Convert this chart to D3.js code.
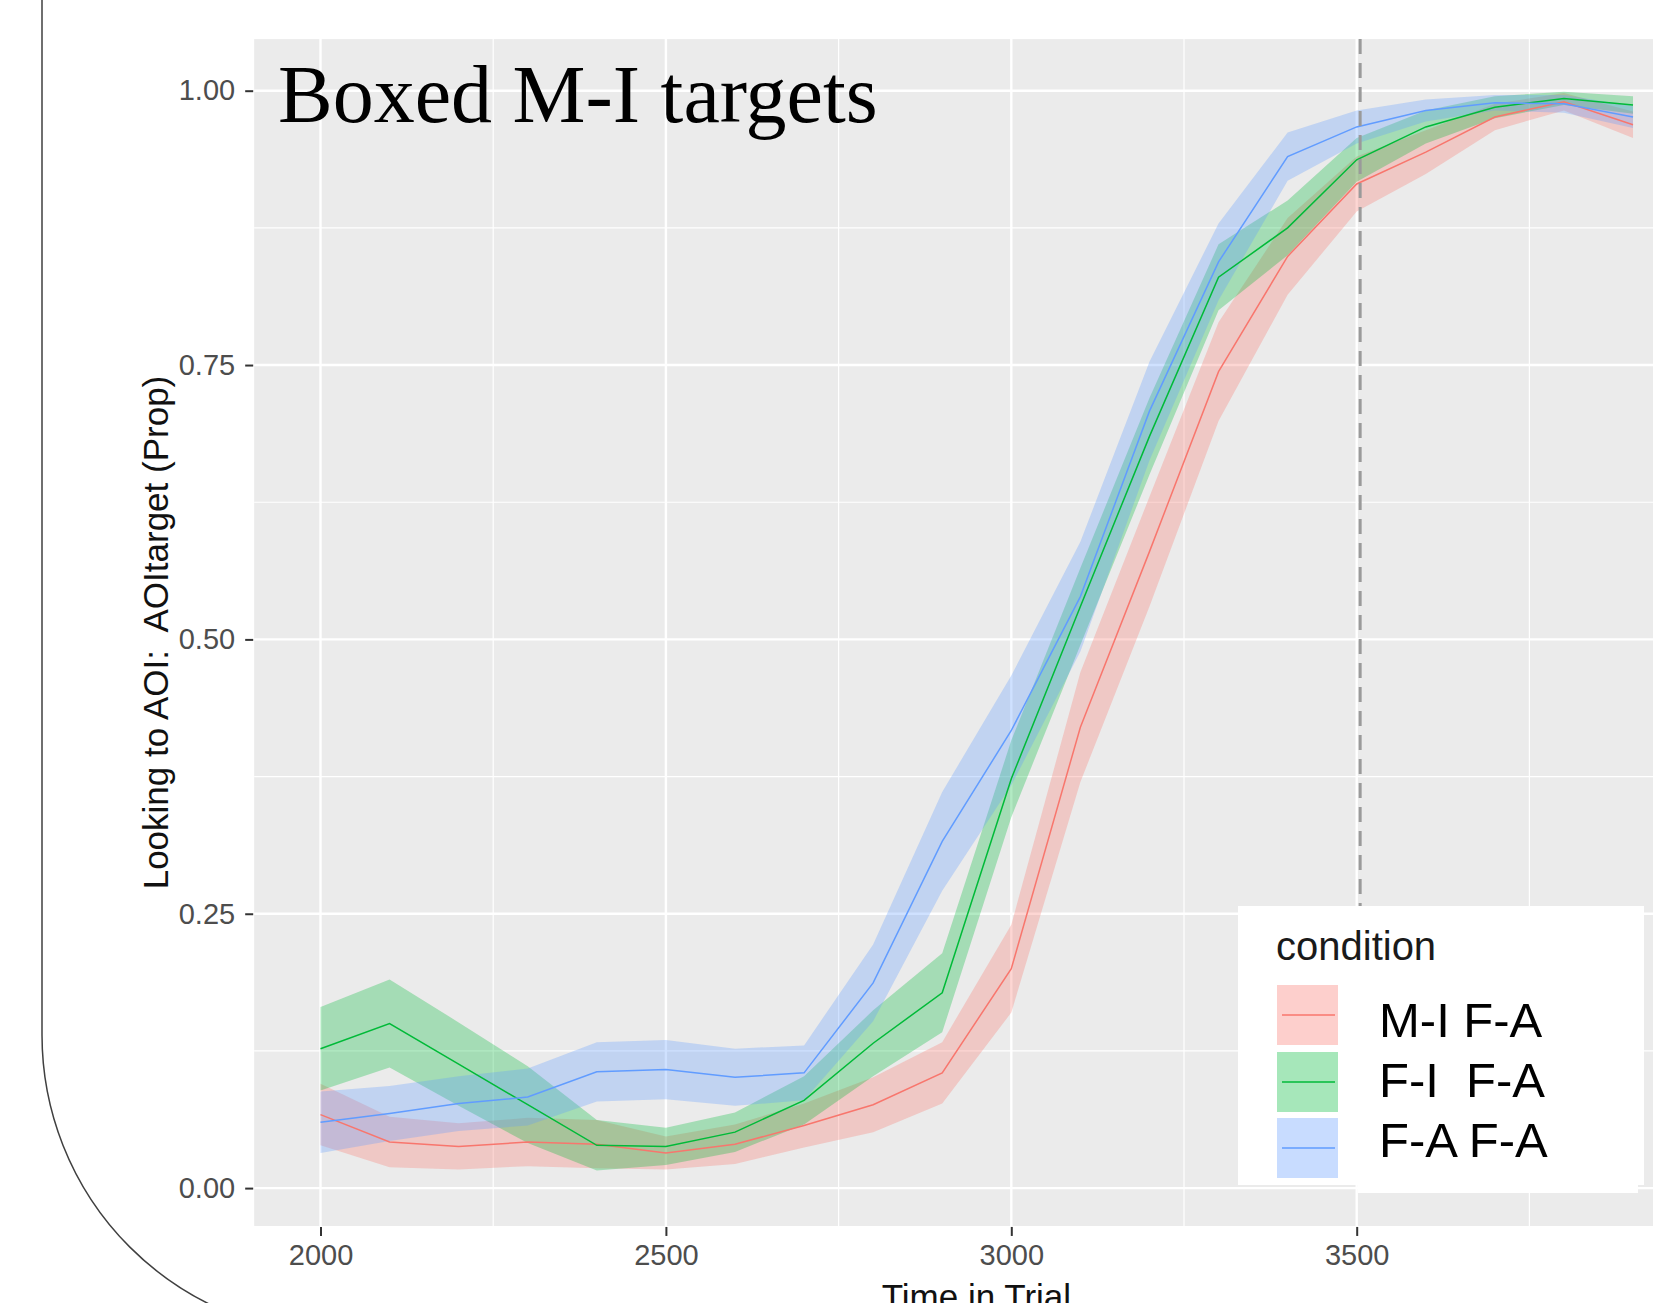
<!DOCTYPE html>
<html>
<head>
<meta charset="utf-8">
<script src="https://d3js.org/d3.v7.min.js"></script>
<style>
  body { margin: 0; background: #fff; }
  svg { display: block; }
</style>
</head>
<body>
<div id="svg-container"></div>
<script>
// Time bins (ms) and per-condition proportions.
const times = [2000, 2100, 2200, 2300, 2400, 2500, 2600, 2700, 2800, 2900,
               3000, 3100, 3200, 3300, 3400, 3500, 3600, 3700, 3800, 3900];

const miMean = [0.067, 0.042, 0.038, 0.042, 0.040, 0.032, 0.040, 0.057, 0.076, 0.105,
                0.200, 0.420, 0.580, 0.744, 0.849, 0.915, 0.944, 0.976, 0.990, 0.969];
const miBand = [0.028, 0.023, 0.021, 0.022, 0.022, 0.015, 0.018, 0.020, 0.025, 0.028,
                0.040, 0.050, 0.050, 0.045, 0.035, 0.025, 0.020, 0.012, 0.008, 0.012];

const fiMean = [0.127, 0.150, 0.113, 0.076, 0.039, 0.038, 0.051, 0.080, 0.132, 0.178,
                0.373, 0.530, 0.685, 0.830, 0.875, 0.937, 0.967, 0.985, 0.993, 0.987];
const fiBand = [0.038, 0.040, 0.038, 0.035, 0.023, 0.017, 0.018, 0.022, 0.030, 0.036,
                0.035, 0.035, 0.035, 0.030, 0.025, 0.020, 0.015, 0.010, 0.006, 0.008];

const faMean = [0.060, 0.068, 0.077, 0.083, 0.106, 0.108, 0.101, 0.105, 0.187, 0.316,
                0.417, 0.539, 0.708, 0.844, 0.940, 0.967, 0.982, 0.989, 0.988, 0.976];
const faBand = [0.028, 0.025, 0.025, 0.026, 0.027, 0.027, 0.026, 0.025, 0.035, 0.045,
                0.050, 0.050, 0.045, 0.035, 0.022, 0.015, 0.010, 0.007, 0.008, 0.010];

const conditions = ['M-I F-A', 'F-I  F-A', 'F-A F-A'];
const colors = ['#F8766D', '#00BA38', '#619CFF'];

const xTicks = [2000, 2500, 3000, 3500];
const xMinor = [2250, 2750, 3250, 3750];
const yTicks = [0, 0.25, 0.5, 0.75, 1];
const yMinor = [0.125, 0.375, 0.625, 0.875];
const cutoff = 3505;

const width = 1653;
const height = 1303;

// Scales.
const xScale = d3.scaleLinear().domain([2000, 3500]).range([320.5, 1356.7]);
const yScale = d3.scaleLinear().domain([0, 1]).range([1188.1, 90.7]);

const panel = {
  left: xScale(1904),
  right: xScale(3995),
  top: yScale(1.047),
  bottom: yScale(-0.0345),
};

const svg = d3.select('div#svg-container')
  .append('svg')
  .attr('width', width)
  .attr('height', height);

svg.append('rect')
  .attr('width', width)
  .attr('height', height)
  .attr('fill', '#fff');

// Slide border with a rounded corner.
svg.append('path')
  .attr('d', 'M42,0 L42,1035 A300,300 0 0 0 342,1335')
  .attr('fill', 'none')
  .attr('stroke', '#404040')
  .attr('stroke-width', 1.5);

// Panel background.
svg.append('rect')
  .attr('x', panel.left)
  .attr('y', panel.top)
  .attr('width', panel.right - panel.left)
  .attr('height', panel.bottom - panel.top)
  .attr('fill', '#EBEBEB');

// Grid.
const grid = svg.append('g').attr('stroke', '#fff');
grid.selectAll('line.xminor').data(xMinor).enter().append('line')
  .attr('x1', d => xScale(d)).attr('x2', d => xScale(d))
  .attr('y1', panel.top).attr('y2', panel.bottom)
  .attr('stroke-width', 1.2);
grid.selectAll('line.yminor').data(yMinor).enter().append('line')
  .attr('x1', panel.left).attr('x2', panel.right)
  .attr('y1', d => yScale(d)).attr('y2', d => yScale(d))
  .attr('stroke-width', 1.2);
grid.selectAll('line.xmajor').data(xTicks).enter().append('line')
  .attr('x1', d => xScale(d)).attr('x2', d => xScale(d))
  .attr('y1', panel.top).attr('y2', panel.bottom)
  .attr('stroke-width', 2.4);
grid.selectAll('line.ymajor').data(yTicks).enter().append('line')
  .attr('x1', panel.left).attr('x2', panel.right)
  .attr('y1', d => yScale(d)).attr('y2', d => yScale(d))
  .attr('stroke-width', 2.4);

// Series.
const series = [
  {mean: miMean, band: miBand, color: colors[0]},
  {mean: fiMean, band: fiBand, color: colors[1]},
  {mean: faMean, band: faBand, color: colors[2]},
];

const area = d3.area()
  .x((d, i) => xScale(times[i]))
  .y0(d => yScale(d[0] - d[1]))
  .y1(d => yScale(d[0] + d[1]));

const line = d3.line()
  .x((d, i) => xScale(times[i]))
  .y(d => yScale(d));

svg.append('g').selectAll('path')
  .data(series)
  .enter()
  .append('path')
  .attr('d', s => area(s.mean.map((m, i) => [m, s.band[i]])))
  .attr('fill', s => s.color)
  .attr('fill-opacity', 0.3);

svg.append('g').selectAll('path')
  .data(series)
  .enter()
  .append('path')
  .attr('d', s => line(s.mean))
  .attr('fill', 'none')
  .attr('stroke', s => s.color)
  .attr('stroke-width', 1.5);

// Dashed cut-off line.
svg.append('line')
  .attr('x1', xScale(cutoff)).attr('x2', xScale(cutoff))
  .attr('y1', panel.top).attr('y2', yScale(0))
  .attr('stroke', '#9a9a9a')
  .attr('stroke-width', 3)
  .attr('stroke-dasharray', '15,9');

// Axes.
const xAxis = d3.axisBottom(xScale).tickValues(xTicks).tickFormat(d3.format('d'))
  .tickSize(9).tickPadding(8);
const yAxis = d3.axisLeft(yScale).tickValues(yTicks).tickFormat(d3.format('.2f'))
  .tickSize(8).tickPadding(10);

const gx = svg.append('g')
  .attr('transform', `translate(0, ${panel.bottom + 1})`)
  .call(xAxis);
const gy = svg.append('g')
  .attr('transform', `translate(${panel.left - 1}, 0)`)
  .call(yAxis);

[gx, gy].forEach(g => {
  g.select('.domain').remove();
  g.selectAll('.tick line').attr('stroke', '#333').attr('stroke-width', 2);
  g.selectAll('.tick text')
    .attr('fill', '#4D4D4D')
    .style('font-family', '"Liberation Sans", Arial, sans-serif')
    .style('font-size', '29px');
});

// Axis titles.
svg.append('text')
  .attr('x', (panel.left + panel.right) / 2)
  .attr('y', 1309)
  .attr('text-anchor', 'middle')
  .style('font-family', '"Liberation Sans", Arial, sans-serif')
  .style('font-size', '35px')
  .attr('fill', '#111')
  .text('Time in Trial');

svg.append('text')
  .attr('transform', `translate(168, ${(panel.top + panel.bottom) / 2}) rotate(-90)`)
  .attr('text-anchor', 'middle')
  .style('font-family', '"Liberation Sans", Arial, sans-serif')
  .style('font-size', '35px')
  .style('white-space', 'pre')
  .attr('fill', '#111')
  .text('Looking to AOI:  AOItarget (Prop)');

// Title.
svg.append('text')
  .attr('x', 278)
  .attr('y', 122)
  .style('font-family', '"Liberation Serif", "DejaVu Serif", serif')
  .style('font-size', '82px')
  .attr('fill', '#000')
  .text('Boxed M-I targets');

// Legend.
const legend = svg.append('g');
legend.append('rect')
  .attr('x', 1238).attr('y', 906)
  .attr('width', 406).attr('height', 279)
  .attr('fill', '#fff');

legend.append('text')
  .attr('x', 1276).attr('y', 960)
  .style('font-family', '"Liberation Sans", Arial, sans-serif')
  .style('font-size', '40px')
  .attr('fill', '#1a1a1a')
  .text('condition');

const keyTop = [985, 1052, 1118];
conditions.forEach((c, i) => {
  legend.append('rect')
    .attr('x', 1277).attr('y', keyTop[i])
    .attr('width', 61).attr('height', 60)
    .attr('fill', colors[i])
    .attr('fill-opacity', 0.35);
  legend.append('line')
    .attr('x1', 1282).attr('x2', 1335)
    .attr('y1', keyTop[i] + 30).attr('y2', keyTop[i] + 30)
    .attr('stroke', colors[i])
    .attr('stroke-width', 1.5);
});

// Label box pasted over the legend.
legend.append('rect')
  .attr('x', 1358).attr('y', 990)
  .attr('width', 280).attr('height', 203)
  .attr('fill', '#fff');

const labelBase = [1037, 1097, 1157];
conditions.forEach((c, i) => {
  legend.append('text')
    .attr('x', 1379).attr('y', labelBase[i])
    .style('font-family', '"Liberation Sans", Arial, sans-serif')
    .style('font-size', '49px')
    .style('white-space', 'pre')
    .attr('fill', '#000')
    .text(c);
});
</script>
</body>
</html>
